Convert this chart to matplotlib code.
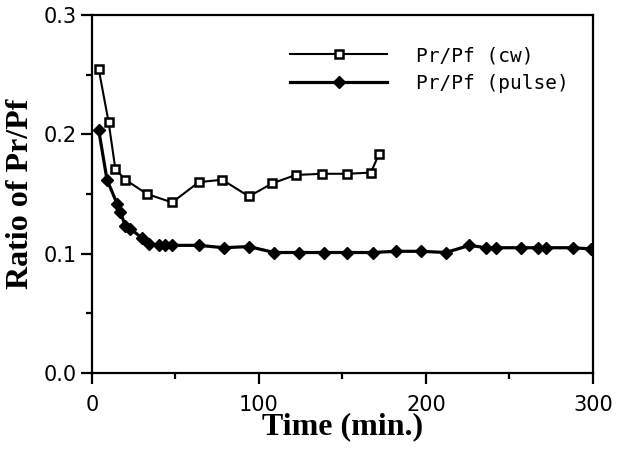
import matplotlib
matplotlib.use('Agg')
import matplotlib.pyplot as plt
import matplotlib.ticker as mticker

# Pr/Pf (cw)
t_cw = [4, 10, 14, 20, 33, 48, 64, 78, 94, 108, 122, 138, 153, 167, 172]
r_cw = [0.255, 0.210, 0.171, 0.162, 0.150, 0.143, 0.160, 0.162, 0.148, 0.159,
        0.166, 0.167, 0.167, 0.168, 0.184]

# Pr/Pf (pulse)
t_pulse = [4, 9, 15, 17, 20, 23, 30, 34, 40, 44, 48, 64, 79, 94, 109, 124,
           139, 153, 168, 182, 197, 212, 226, 236, 242, 257, 267, 272, 288, 299]
r_pulse = [0.204, 0.162, 0.142, 0.135, 0.123, 0.121, 0.113, 0.108, 0.107,
           0.107, 0.107, 0.107, 0.105, 0.106, 0.101, 0.101, 0.101, 0.101,
           0.101, 0.102, 0.102, 0.101, 0.107, 0.105, 0.105, 0.105, 0.105,
           0.105, 0.105, 0.104]

fig = plt.figure(figsize=(6.21, 4.49), dpi=100)
ax = fig.add_axes([0.1481, 0.1693, 0.8068, 0.797])

ax.plot(t_cw, r_cw, color='k', lw=1.5, marker='s', ms=6, mfc='white',
        mec='k', mew=1.8, label='Pr/Pf (cw)')
ax.plot(t_pulse, r_pulse, color='k', lw=2.3, marker='D', ms=6, mfc='k',
        mec='k', label='Pr/Pf (pulse)')

ax.set_xlim(0, 300)
ax.set_ylim(0.0, 0.3)
ax.xaxis.set_major_locator(mticker.MultipleLocator(100))
ax.xaxis.set_minor_locator(mticker.MultipleLocator(50))
ax.yaxis.set_major_locator(mticker.MultipleLocator(0.1))
ax.yaxis.set_minor_locator(mticker.MultipleLocator(0.05))
ax.yaxis.set_major_formatter(mticker.FormatStrFormatter('%.1f'))

for s in ax.spines.values():
    s.set_linewidth(1.6)
ax.tick_params(which='major', direction='out', length=8, width=1.6,
               labelsize=15, pad=3)
ax.tick_params(which='minor', direction='out', length=4, width=1.6)
ax.tick_params(axis='x', which='major', pad=8)

ax.set_xlabel('Time (min.)', family='Liberation Serif', fontweight='bold',
              fontsize=23, labelpad=-2)
ax.set_ylabel('Ratio of Pr/Pf', family='Liberation Serif', fontweight='bold',
              fontsize=23, labelpad=6)

ax.legend(loc='upper left', bbox_to_anchor=(290 / 621, 1 - 46 / 449),
          bbox_transform=fig.transFigure, frameon=False, borderpad=0,
          borderaxespad=0, handlelength=5, numpoints=1,
          prop={'family': 'DejaVu Sans Mono', 'size': 14},
          labelspacing=0.45, handletextpad=1.5)

fig.savefig('out.png', dpi=100)
